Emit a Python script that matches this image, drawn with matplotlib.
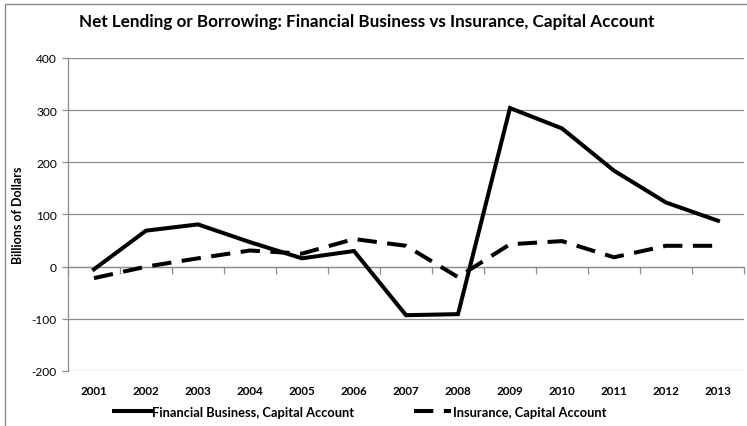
import numpy as np
import matplotlib
matplotlib.use("Agg")
import matplotlib.pyplot as plt
from matplotlib.patches import Rectangle

plt.rcParams['font.family'] = ['Lato', 'DejaVu Sans']

years = ["2001", "2002", "2003", "2004", "2005", "2006", "2007",
         "2008", "2009", "2010", "2011", "2012", "2013"]
financial = [-5, 69, 81, 47, 16, 30, -93, -91, 304, 265, 184, 123, 88]
insurance = [-22, 0, 16, 31, 25, 53, 40, -20, 43, 49, 18, 40, 40]
y_ticks = [-200, -100, 0, 100, 200, 300, 400]

title = "Net Lending or Borrowing: Financial Business vs Insurance, Capital Account"
y_label = "Billions of Dollars"
label_fin = "Financial Business, Capital Account"
label_ins = "Insurance, Capital Account"

grey = "#8c8c8c"
W, H = 747, 427
fig = plt.figure(figsize=(W / 100, H / 100), dpi=100)
ax = fig.add_axes([68 / W, 1 - 372 / H, (744 - 68) / W, (372 - 59) / H])

x = np.arange(len(years))
ax.plot(x, financial, color="black", lw=2.9, solid_joinstyle="miter",
        label=label_fin)
ax.plot(x, insurance, color="black", lw=2.9, dashes=(4.8, 2.6),
        dash_capstyle="butt", label=label_ins)

ax.set_xlim(-0.5, len(years) - 0.5)
ax.set_ylim(y_ticks[0], y_ticks[-1])
ax.set_yticks(y_ticks)
ax.set_yticklabels([str(v) for v in y_ticks])
ax.yaxis.grid(True, color=grey, lw=0.9)
ax.set_axisbelow(True)

ax.set_xticks(x)
ax.set_xticklabels(years, fontweight="bold")
ax.tick_params(axis="x", length=0, pad=10, labelsize=8.4)
ax.tick_params(axis="y", length=4, width=0.9, color=grey, pad=4, labelsize=8.6)

for s in ("top", "right", "bottom"):
    ax.spines[s].set_visible(False)
ax.spines["left"].set_color(grey)
ax.spines["left"].set_linewidth(0.9)

# category axis drawn along the zero line, with ticks between categories
zero_frac = (0 - y_ticks[0]) / (y_ticks[-1] - y_ticks[0])
sec = ax.secondary_xaxis(zero_frac)
sec.set_xticks(np.arange(len(years) + 1) - 0.5)
sec.set_xticklabels([])
sec.tick_params(length=5, width=0.9, color=grey, direction="out")
sec.spines["bottom"].set_color(grey)
sec.spines["bottom"].set_linewidth(0.9)

ax.set_ylabel(y_label, fontweight="bold", fontsize=9.0)
ax.yaxis.set_label_coords(-(68 - 24) / (744 - 68), 0.5)

fig.text(367 / W, 1 - 22 / H, title, ha="center", va="center",
         fontweight="bold", fontsize=12.3)

fig.legend(loc="center", bbox_to_anchor=(360 / W, 1 - 413 / H), ncol=2,
           frameon=False, handlelength=2.9, handletextpad=0.08,
           columnspacing=4.6, prop={"weight": "bold", "size": 9.3})

fig.add_artist(Rectangle((5 / W, -0.2), 1.5, 1.2 - 5 / H,
                         transform=fig.transFigure, fill=False,
                         edgecolor=grey, lw=1.0))

fig.savefig("out.png", dpi=100)
